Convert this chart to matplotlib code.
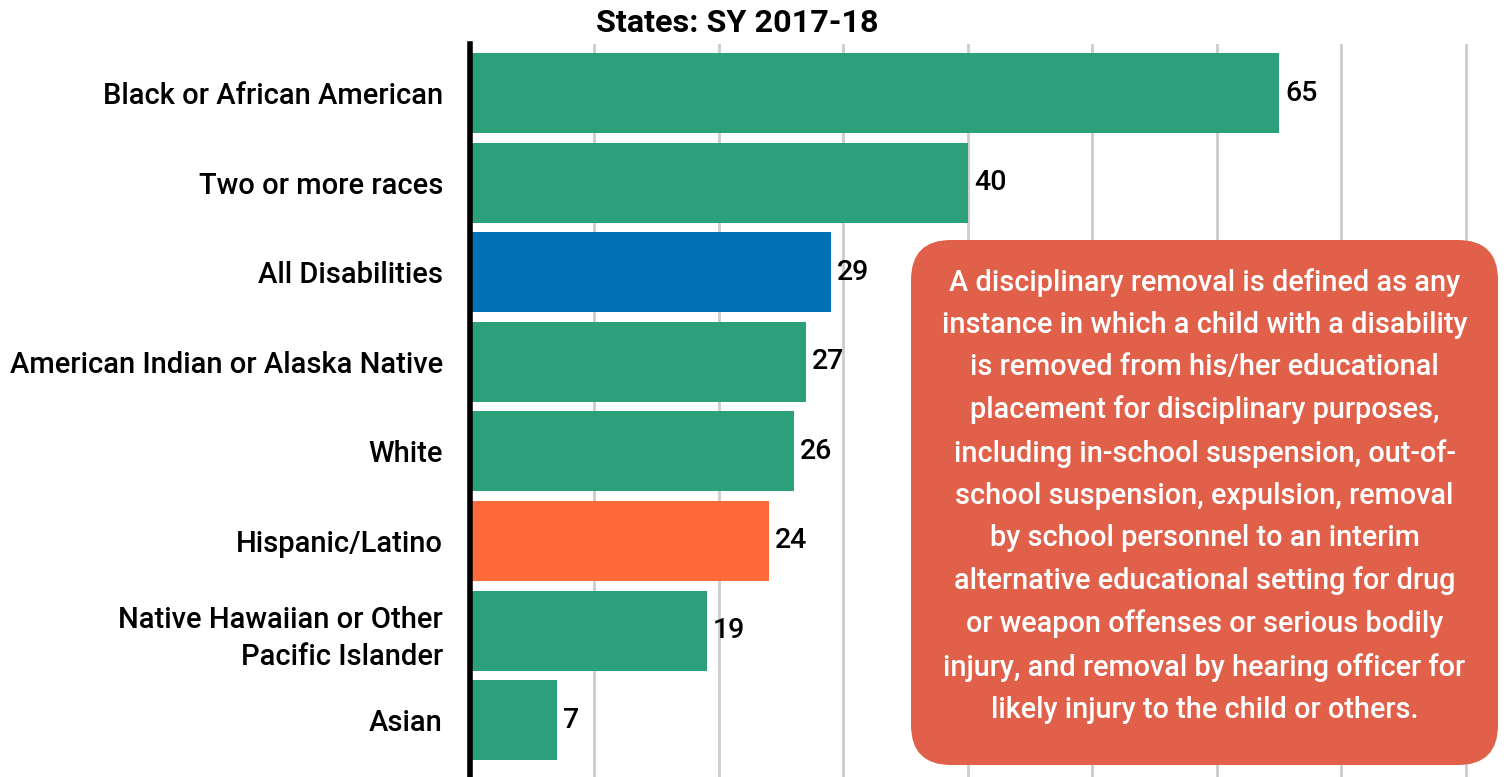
import matplotlib.pyplot as plt
from matplotlib.patches import FancyBboxPatch
import numpy as np

plt.rcParams['font.family'] = ['Roboto', 'DejaVu Sans']

# 数据
categories = ['Black or African American', 'Two or more races', 'All Disabilities',
              'American Indian or Alaska Native', 'White', 'Hispanic/Latino',
              'Native Hawaiian or Other\nPacific Islander', 'Asian']
values = [65, 40, 29, 27, 26, 24, 19, 7]
colors = ['#2ca07a', '#2ca07a', '#0071b3', '#2ca07a', '#2ca07a', '#ff6a3a', '#2ca07a', '#2ca07a']
title = 'States: SY 2017-18'
note = ('A disciplinary removal is defined as any\n'
        'instance in which a child with a disability\n'
        'is removed from his/her educational\n'
        'placement for disciplinary purposes,\n'
        'including in-school suspension, out-of-\n'
        'school suspension, expulsion, removal\n'
        'by school personnel to an interim\n'
        'alternative educational setting for drug\n'
        'or weapon offenses or serious bodily\n'
        'injury, and removal by hearing officer for\n'
        'likely injury to the child or others.')

fig = plt.figure(figsize=(15.07, 7.77), dpi=100)
ax = fig.add_axes([470 / 1507, 0, 1 - 470 / 1507, (777 - 44) / 777])

y = np.arange(len(categories))
ax.barh(y, values, height=0.893, color=colors, zorder=2)
for yi, v in zip(y, values):
    ax.text(v + 0.5, yi, str(v), va='center', ha='left', fontsize=20.5,
            fontweight='medium', color='black')

ax.set_xlim(0, 83.3)
ax.set_ylim(7.634, -0.547)
ax.set_xticks(np.arange(10, 90, 10))
ax.xaxis.grid(True, color='#cccccc', linewidth=2, zorder=0)
ax.set_axisbelow(True)
ax.tick_params(axis='x', length=0, labelbottom=False)
ax.tick_params(axis='y', length=0, pad=19.5)
ax.set_yticks(y)
ax.set_yticklabels(categories, fontsize=21, fontweight='medium', ha='right')
for lab in ax.get_yticklabels():
    lab.set_linespacing(1.45)
for s in ['top', 'right', 'bottom']:
    ax.spines[s].set_visible(False)
ax.spines['left'].set_linewidth(4)
ax.spines['left'].set_color('black')

fig.text(737 / 1507, 1 - 23 / 777, title, ha='center', va='center',
         fontsize=23.3, fontweight='bold')

# 注释框
box = FancyBboxPatch((9.11, 0.12), 5.87, 5.25, boxstyle='round,pad=0,rounding_size=0.4',
                     transform=fig.dpi_scale_trans, facecolor='#e0604a', edgecolor='none',
                     zorder=5)
fig.patches.append(box)
fig.text(1204.5 / 1507, 1 - 496 / 777, note, ha='center', va='center', color='white',
         fontsize=20.8, fontweight='medium', linespacing=1.635, zorder=6)

fig.savefig('out.png', dpi=100)
